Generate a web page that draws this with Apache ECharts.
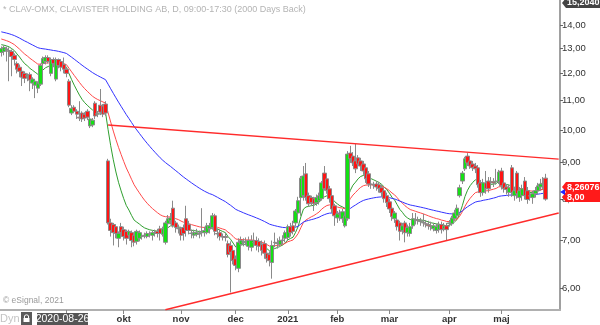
<!DOCTYPE html>
<html><head><meta charset="utf-8">
<script src="https://cdn.jsdelivr.net/npm/echarts@6/dist/echarts.min.js"></script>
<style>html,body{margin:0;padding:0;background:#fff}#c{width:600px;height:325px}</style>
</head><body><div id="c"></div>
<script>
// ---------- data ----------
const startDate = '2020-07-28';
const holidays = ['2020-12-24','2020-12-25','2020-12-31','2021-01-01','2021-01-06','2021-04-02','2021-04-05','2021-05-13'];
const slotCount = 215;

const opens = [
12.84,12.88,12.96,12.92,12.88,12.72,12.39,12.24,12.08,12.00,
11.89,11.96,11.63,11.55,11.44,11.59,12.39,12.47,12.63,12.00,
12.55,11.78,12.55,12.47,12.35,12.16,11.70,10.56,10.76,10.62,
10.42,10.56,10.52,10.62,10.13,10.16,10.90,10.52,10.83,10.80,
10.87,9.05,7.41,7.37,7.32,7.05,7.32,7.25,7.21,7.12,
7.18,7.12,6.98,7.05,7.09,7.12,7.09,7.14,7.12,7.16,
7.21,7.27,7.14,6.96,7.39,7.46,7.77,7.41,7.27,7.27,
7.30,7.51,7.37,7.16,7.12,7.14,7.16,7.18,7.18,7.18,
7.27,7.30,7.58,7.16,7.18,7.09,7.09,6.93,6.89,6.78,
6.60,6.40,6.91,6.96,6.96,6.87,6.85,6.96,7.00,6.98,
6.91,6.93,6.72,6.69,6.52,6.96,6.93,6.91,7.00,7.05,
7.07,7.32,7.34,7.41,7.65,8.04,8.09,8.68,8.09,8.04,
8.01,7.91,7.96,8.01,8.70,8.54,8.27,8.09,7.83,7.53,
7.63,7.51,7.34,7.51,9.28,9.19,9.05,9.14,9.05,8.96,
8.85,8.68,8.40,8.38,8.40,8.38,8.30,8.22,8.09,7.93,
7.77,7.51,7.48,7.41,7.23,7.41,7.18,7.16,7.34,7.48,
7.48,7.44,7.41,7.39,7.37,7.34,7.27,7.23,7.25,7.37,
7.27,7.34,7.39,7.39,7.51,7.58,8.09,8.48,8.82,9.19,
9.05,8.96,8.90,8.85,8.43,8.17,8.43,8.48,8.46,8.46,
8.46,8.46,8.76,8.43,8.32,8.17,8.85,8.09,8.70,8.04,
8.09,8.48,8.22,8.09,8.04,8.14,8.22,8.32,8.40,8.56];

const closes = [
13.00,13.05,12.98,12.88,12.67,12.55,12.16,12.08,11.85,11.81,
11.93,11.74,11.78,11.70,11.63,12.31,12.59,12.63,12.47,12.55,
12.39,12.55,12.31,12.24,12.16,12.00,10.83,10.72,10.62,10.52,
10.39,10.36,10.39,10.42,10.36,10.32,10.46,10.54,10.59,10.52,
10.56,7.41,7.23,7.18,7.16,7.16,7.18,7.09,7.05,7.21,
7.00,6.96,7.21,7.18,7.10,7.11,7.16,7.15,7.18,7.18,
7.16,7.16,7.27,7.41,7.51,7.53,7.34,7.30,7.28,7.12,
7.16,7.23,7.23,7.17,7.18,7.18,7.15,7.21,7.23,7.34,
7.34,7.58,7.21,7.15,7.09,7.08,7.07,6.69,6.74,6.56,
6.46,6.96,7.00,6.97,6.98,7.00,7.00,6.95,6.89,6.87,
6.78,6.72,6.60,6.56,6.89,6.95,6.94,7.00,7.01,7.18,
7.32,7.18,7.21,7.70,7.96,8.56,8.62,8.04,7.88,7.91,
7.88,8.04,8.09,8.43,8.27,8.22,8.01,7.75,7.58,7.63,
7.61,7.68,7.58,9.25,9.11,8.99,8.82,8.96,8.90,8.76,
8.54,8.40,8.39,8.37,8.32,8.27,8.17,8.01,7.91,7.75,
7.56,7.65,7.32,7.21,7.34,7.18,7.30,7.32,7.51,7.49,
7.46,7.46,7.42,7.38,7.34,7.32,7.34,7.32,7.37,7.25,
7.34,7.25,7.41,7.53,7.65,7.77,8.30,8.70,9.11,8.99,
8.90,8.85,8.82,8.38,8.17,8.43,8.27,8.27,8.45,8.43,
8.48,8.73,8.35,8.27,8.25,8.30,8.17,8.22,8.14,8.22,
8.27,8.09,7.99,8.08,8.14,8.22,8.35,8.40,8.42,8.00];

const lows = [
12.67,12.72,12.47,11.70,11.89,12.31,12.00,11.85,11.52,11.63,
11.70,11.33,11.41,11.08,11.26,11.52,12.31,12.35,12.39,11.89,
12.24,11.70,12.20,12.08,12.00,11.85,10.76,10.49,10.56,10.36,
10.29,10.26,10.29,10.32,10.06,10.09,10.36,10.42,10.49,10.42,
10.46,7.37,7.09,6.89,7.05,6.85,7.09,7.00,6.91,7.05,
6.85,6.87,6.91,6.98,7.02,7.05,7.05,7.07,7.00,7.09,
7.07,7.00,7.09,6.91,7.32,7.37,7.30,7.18,7.16,7.00,
7.00,7.09,7.14,7.05,7.05,7.09,7.05,7.09,7.09,7.14,
7.16,7.25,7.12,7.05,7.00,7.00,6.98,6.63,5.92,6.48,
6.36,6.32,6.85,6.87,6.89,6.78,6.76,6.87,6.78,6.74,
6.67,6.60,6.52,6.44,6.19,6.85,6.82,6.85,6.91,6.96,
7.00,7.09,7.14,7.32,7.58,7.58,7.96,7.96,7.80,7.83,
7.70,7.83,7.86,7.96,8.22,8.14,7.91,7.65,7.34,7.41,
7.46,7.41,7.30,7.46,8.99,8.90,8.70,8.87,8.76,8.65,
8.43,8.32,8.27,8.27,8.22,8.17,8.06,7.91,7.80,7.65,
7.46,7.41,7.23,7.00,7.14,6.96,7.09,7.09,7.27,7.37,
7.37,7.34,7.32,7.30,7.25,7.23,7.21,7.16,7.18,7.16,
7.21,7.00,7.32,7.34,7.46,7.53,8.04,8.40,8.76,8.90,
8.82,8.76,8.70,8.30,8.06,8.09,8.14,8.17,8.35,8.32,
8.38,8.40,8.25,8.17,8.12,8.06,8.06,7.96,8.01,7.93,
7.96,7.99,7.88,7.96,7.88,8.04,8.12,8.22,8.27,7.96];

const highs = [
13.09,13.13,13.09,13.05,12.96,12.80,12.47,12.35,12.16,12.08,
12.00,12.04,11.85,11.78,11.70,12.39,12.67,12.72,12.72,12.63,
12.63,12.63,12.59,12.55,12.63,12.24,11.78,10.83,10.83,10.69,
10.97,10.62,10.59,10.69,10.42,10.39,10.97,10.62,11.41,10.87,
10.97,9.11,7.51,7.41,7.37,7.21,7.41,7.32,7.25,7.25,
7.23,7.18,7.25,7.23,7.16,7.18,7.21,7.21,7.23,7.25,
7.27,7.34,7.32,7.46,7.60,7.65,7.96,7.46,7.37,7.32,
7.37,7.83,7.46,7.25,7.25,7.27,7.23,7.77,7.32,7.41,
7.41,7.65,7.63,7.27,7.25,7.16,7.18,7.00,6.98,6.82,
6.67,7.05,7.09,7.05,7.07,7.09,7.12,7.18,7.09,7.05,
7.00,7.00,6.78,6.76,7.00,7.18,7.05,7.09,7.12,7.23,
7.37,7.41,7.46,7.75,8.06,8.62,8.90,8.99,8.17,8.09,
8.06,8.12,8.17,8.48,8.90,8.62,8.35,8.14,7.88,7.70,
7.73,7.75,7.68,9.34,9.50,9.31,9.56,9.22,9.14,9.05,
8.93,8.76,8.48,8.46,8.48,8.46,8.38,8.27,8.17,8.01,
7.83,7.70,7.56,7.46,7.41,7.46,7.37,7.41,7.65,7.65,
7.56,7.53,7.63,7.48,7.46,7.44,7.41,7.39,7.44,7.44,
7.41,7.41,7.48,7.58,7.73,7.86,8.38,8.76,9.17,9.28,
9.14,9.05,8.99,8.93,8.51,8.54,8.76,8.59,8.59,8.56,
8.82,8.79,8.85,8.54,8.40,8.38,8.93,8.32,8.76,8.32,
8.38,8.59,8.32,8.22,8.22,8.32,8.43,8.54,8.59,8.68];

const maPeriods = [10, 20, 50];
const maSeeds = [13.2, 13.45, 13.75];
const maColors = ['#2f9f2f', '#ff4a4a', '#3333ff'];

const yTicks = [6, 7, 8, 9, 10, 11, 12, 13, 14];
const yMin = 5.595, yMax = 15.204;

const monthTickDates = ['2020-09-01','2020-10-01','2020-11-02','2020-12-01','2021-01-04','2021-02-01','2021-03-01','2021-04-01','2021-05-03'];
const monthTickLabels = ['', 'okt', 'nov', 'dec', '2021', 'feb', 'mar', 'apr', 'maj'];

const upperTrendDates = ['2020-09-23', '2021-06-03'];
const upperTrendValues = [10.16, 9.10];
const lowerTrendDates = ['2020-10-23', '2021-06-03'];
const lowerTrendValues = [5.60, 7.65];

const markerValues = [8.26076, 8.00];
const topValueLabel = '15,2040';
const titleText = '* CLAV-OMX, CLAVISTER HOLDING AB, D, 09:00-17:30 (2000 Days Back)';
const cursorDate = '2020-08-26';

// ---------- build ----------
function tradingDays(start, n) {
  const out = [];
  const d = new Date(start + 'T00:00:00Z');
  while (out.length < n) {
    const s = d.toISOString().slice(0, 10);
    const wd = d.getUTCDay();
    if (wd !== 0 && wd !== 6 && holidays.indexOf(s) < 0) out.push(s);
    d.setUTCDate(d.getUTCDate() + 1);
  }
  return out;
}
const dates = tradingDays(startDate, slotCount);
function ema(src, period, seed) {
  const a = 2 / (period + 1); let e = seed;
  return src.map(c => { e = e + a * (c - e); return +e.toFixed(4); });
}
const candles = opens.map((o, i) => [o, closes[i], lows[i], highs[i]]);
const tickSet = new Set(monthTickDates);
const labelMap = {}; monthTickDates.forEach((d, i) => labelMap[d] = monthTickLabels[i]);

const chart = echarts.init(document.getElementById('c'), null, {renderer: 'canvas'});
const series = [];
maPeriods.forEach((p, k) => {
  series.push({type: 'line', data: ema(closes, p, maSeeds[k]), showSymbol: false, silent: true,
    lineStyle: {color: maColors[k], width: 1}, z: 2});
});
series.push({type: 'candlestick', data: candles, barWidth: 4, z: 3,
  itemStyle: {color: '#14e014', color0: '#ff1414', borderColor: '#8a8a8a', borderColor0: '#8a8a8a', borderWidth: 1}});
series.push({type: 'line', data: upperTrendDates.map((d, i) => [d, upperTrendValues[i]]), showSymbol: false, silent: true,
  lineStyle: {color: '#ff2b2b', width: 1.4}, z: 4});
series.push({type: 'line', data: lowerTrendDates.map((d, i) => [d, lowerTrendValues[i]]), showSymbol: false, silent: true,
  lineStyle: {color: '#ff2b2b', width: 1.4}, z: 4});

const option = {
  animation: false,
  backgroundColor: '#fff',
  grid: {left: 0, right: 40, top: 0, bottom: 15, containLabel: false},
  xAxis: {type: 'category', data: dates, boundaryGap: true,
    axisLine: {show: true, lineStyle: {color: '#b0b0b0', width: 2}},
    axisTick: {show: true, alignWithLabel: true, interval: (i, v) => tickSet.has(v), length: 4, lineStyle: {color: '#888'}},
    axisLabel: {interval: (i, v) => tickSet.has(v), formatter: v => labelMap[v] || '', color: '#333', fontSize: 9.5,
      fontWeight: 'bold', fontFamily: 'Liberation Sans, Arial', margin: 4},
    splitLine: {show: false}},
  yAxis: {type: 'log', logBase: 10, min: yMin, max: yMax, position: 'right', scale: true,
    axisLine: {show: true, lineStyle: {color: '#a0a0a0', width: 2}},
    axisTick: {show: true, customValues: yTicks, length: 3, lineStyle: {color: '#666'}},
    axisLabel: {customValues: yTicks, formatter: v => (+v).toFixed(2).replace('.', ','), color: '#333', fontSize: 9.5,
      fontFamily: 'Liberation Sans, Arial', margin: 2},
    splitLine: {show: false}},
  series: series
};
chart.setOption(option);

const py = v => chart.convertToPixel({yAxisIndex: 0}, v);
const ax = 561;
function tag(y, text, fill) {
  return [
    {type: 'polygon', shape: {points: [[ax + 1, y], [ax + 5, y - 5], [600, y - 5], [600, y + 5], [ax + 5, y + 5]]},
      style: {fill: fill}, z: 100},
    {type: 'text', x: ax + 6, y: y, style: {text: text, fill: '#fff', font: 'bold 9px "Liberation Sans", Arial',
      verticalAlign: 'middle', align: 'left'}, z: 101}
  ];
}
const yTop = py(yMax);
const y2 = py(markerValues[1]) - 2;
const y1 = Math.min(py(markerValues[0]) - 1, y2 - 10);
const graphic = [
  {type: 'text', x: 3, y: 10, style: {text: titleText, fill: '#b4b4b4', font: '9px "Liberation Sans", Arial', verticalAlign: 'middle'}, z: 50},
  {type: 'text', x: 3, y: 301, style: {text: '\u00a9 eSignal, 2021', fill: '#9a9a9a', font: '8.5px "Liberation Sans", Arial', verticalAlign: 'middle'}, z: 50},
  {type: 'text', x: 0, y: 319, style: {text: 'Dyn', fill: '#c4c4c4', font: '11px "Liberation Sans", Arial', verticalAlign: 'middle'}, z: 50},
  {type: 'rect', shape: {x: 21, y: 312, width: 11, height: 13}, style: {fill: '#5a5a5a'}, z: 50},
  {type: 'circle', shape: {cx: 26.5, cy: 317, r: 2.2}, style: {fill: 'none', stroke: '#fff', lineWidth: 1}, z: 51},
  {type: 'rect', shape: {x: 23.5, y: 318, width: 6, height: 4}, style: {fill: '#fff'}, z: 51},
  {type: 'rect', shape: {x: 37, y: 313, width: 51, height: 12}, style: {fill: '#555'}, z: 60},
  {type: 'text', x: 62.5, y: 319.5, style: {text: cursorDate, fill: '#fff', font: '10.5px "Liberation Sans", Arial', align: 'center', verticalAlign: 'middle'}, z: 61},
  ...tag(yTop + 3, topValueLabel, '#444'),
  ...tag(y1, '8,26076', '#ff1a1a'),
  ...tag(y2, '8,00', '#ff1a1a'),
  {type: 'polygon', shape: {points: [[ax - 1, y1 + 5], [ax + 4, y1 + 2], [ax + 4, y1 + 8]]}, style: {fill: '#2222ff'}, z: 102}
];
chart.setOption({graphic: graphic});
</script>
</body></html>
